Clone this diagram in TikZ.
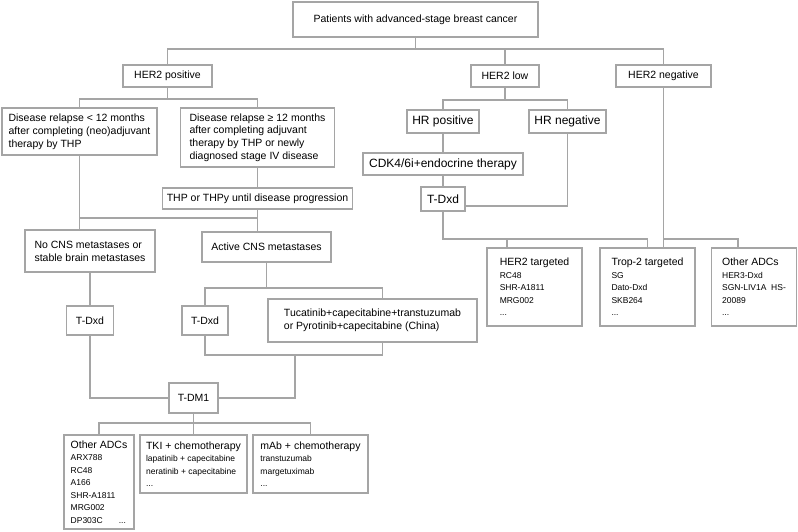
\documentclass[tikz,border=0pt]{standalone}
\usepackage{fontspec}
\setmainfont{Liberation Sans}
\usetikzlibrary{positioning}
\definecolor{linegray}{RGB}{165,165,165}
\tikzset{
  box/.style={draw=linegray, line width=1.8pt, inner sep=0pt, font=\fontsize{10.5}{12.8}\selectfont, align=center},
  bigbox/.style={box, font=\fontsize{12}{14}\selectfont},
  listbox/.style={box, align=left, font=\fontsize{8.5}{12.5}\selectfont},
  link/.style={draw=linegray, line width=1.8pt},
}
\newcommand{\listhead}[1]{{\fontsize{10.5}{12.5}\selectfont #1}}

\begin{document}
\begin{tikzpicture}[x=1pt,y=-1pt]
    \useasboundingbox (0,0) rectangle (798,532);
    \fill [white] (0,0) rectangle (798,532);

    \node [box, minimum width=245pt, minimum height=35pt] (top) at (415.5,19.5) {Patients with advanced-stage breast cancer};
    \node [box, minimum width=89pt, minimum height=22pt] (pos) at (167.5,76) {HER2 positive};
    \node [box, minimum width=68pt, minimum height=22pt] (low) at (505,76) {HER2 low};
    \node [box, minimum width=95pt, minimum height=22pt] (neg) at (663.5,76) {HER2 negative};

    \node [box, align=left, minimum width=155pt, minimum height=47pt] (early) at (79.5,131.5) {Disease relapse < 12 months\\after completing (neo)adjuvant\\therapy by THP};
    \node [box, align=left, minimum width=154pt, minimum height=59pt] (late) at (257.5,137.5) {Disease relapse ≥ 12 months\\after completing adjuvant\\therapy by THP or newly\\diagnosed stage IV disease\hspace{5pt}};
    \node [box, minimum width=190pt, minimum height=21pt] (thp) at (257.5,198.5) {THP or THPy until disease progression};
    \node [box, align=left, minimum width=130pt, minimum height=42pt] (nocns) at (90,251) {No CNS metastases or\\stable brain metastases};
    \node [box, minimum width=129pt, minimum height=30pt] (active) at (266.5,247) {Active CNS metastases};

    \node [box, minimum width=47pt, minimum height=29pt] (tdxdA) at (90,320.5) {T-Dxd};
    \node [box, minimum width=46pt, minimum height=29pt] (tdxdB) at (205,320.5) {T-Dxd};
    \node [box, align=left, minimum width=209pt, minimum height=43pt] (tuca) at (372.5,320.5) {Tucatinib+capecitabine+transtuzumab\\or Pyrotinib+capecitabine (China)};
    \node [box, minimum width=49pt, minimum height=30pt] (tdm1) at (193.5,398) {T-DM1};

    \node [listbox, minimum width=70pt, minimum height=94pt] (adcA) at (99,482) {\listhead{Other ADCs}\\ARX788\\RC48\\A166\\SHR-A1811\\MRG002\\DP303C\hspace{16pt}...};
    \node [listbox, minimum width=107pt, minimum height=58pt] (tki) at (193.5,464) {\listhead{TKI + chemotherapy}\\lapatinib + capecitabine\\neratinib + capecitabine\\...};
    \node [listbox, minimum width=115pt, minimum height=58pt] (mab) at (310.5,464) {\listhead{mAb + chemotherapy}\\transtuzumab\\margetuximab\\...\hspace{8pt}};

    \node [bigbox, minimum width=72pt, minimum height=23pt] (hrpos) at (443,121.5) {HR positive};
    \node [bigbox, minimum width=77pt, minimum height=23pt] (hrneg) at (567.5,121.5) {HR negative};
    \node [bigbox, minimum width=160pt, minimum height=22pt] (cdk) at (443,164) {CDK4/6i+endocrine therapy};
    \node [bigbox, minimum width=44pt, minimum height=24pt] (tdxdC) at (443,199) {T-Dxd};

    \node [listbox, minimum width=95pt, minimum height=78pt] (her2t) at (534.5,287) {\listhead{HER2 targeted}\hspace{2pt}\\RC48\\SHR-A1811\\MRG002\\...};
    \node [listbox, minimum width=95pt, minimum height=78pt] (trop) at (647.5,287) {\listhead{Trop-2 targeted}\hspace{2pt}\\SG\\Dato-Dxd\\SKB264\\...};
    \node [listbox, minimum width=85pt, minimum height=78pt] (adcB) at (754,287) {\listhead{Other ADCs}\\HER3-Dxd\\SGN-LIV1A\ \ HS-\\20089\\...};

    \coordinate (j1) at (0,49);
    \coordinate (j2) at (0,99);
    \coordinate (j3) at (0,218);
    \coordinate (j4) at (0,288);
    \coordinate (j5) at (295,355);
    \coordinate (j6) at (0,423);
    \coordinate (j7) at (0,100);
    \coordinate (j8) at (0,239);
    \coordinate (tucaTop) at ([xshift=10pt]tuca.north);
    \coordinate (tucaBot) at ([xshift=10pt]tuca.south);
    \coordinate (her2tIn) at ([xshift=-27.5pt]her2t.north);
    \coordinate (adcBIn) at ([xshift=-16pt]adcB.north);

    \draw [link] (top.south) -- (top.south |- j1);
    \draw [link] (pos.north) |- (j1 -| neg.north) -- (neg.north);
    \draw [link] (low.north) -- (low.north |- j1);

    \draw [link] (pos.south) -- (pos.south |- j2);
    \draw [link] (early.north) |- (j2 -| late.north) -- (late.north);
    \draw [link] (late.south) -- (thp.north);
    \draw [link] (early.south) -- (early.south |- nocns.north);
    \draw [link] (thp.south) -- (thp.south |- active.north);
    \draw [link] (early.south |- j3) -- (thp.south |- j3);

    \draw [link] (nocns.south) -- (tdxdA.north);
    \draw [link] (active.south) -- (active.south |- j4);
    \draw [link] (tdxdB.north) |- (tucaTop |- j4) -- (tucaTop);
    \draw [link] (tdxdB.south) |- (tucaBot |- j5) -- (tucaBot);
    \draw [link] (j5) |- (tdm1.east);
    \draw [link] (tdxdA.south) |- (tdm1.west);

    \draw [link] (tdm1.south) -- (tdm1.south |- j6);
    \draw [link] (adcA.north) |- (j6 -| mab.north) -- (mab.north);
    \draw [link] (tki.north) -- (tki.north |- j6);

    \draw [link] (low.south) -- (low.south |- j7);
    \draw [link] (hrpos.north) |- (j7 -| hrneg.north) -- (hrneg.north);
    \draw [link] (hrpos.south) -- (cdk.north);
    \draw [link] (cdk.south) -- (tdxdC.north);
    \draw [link] (hrneg.south) |- ([yshift=-7pt]tdxdC.east);

    \draw [link] (tdxdC.south) |- (trop.north |- j8) -- (trop.north);
    \draw [link] (her2tIn |- j8) -- (her2tIn);
    \draw [link] (neg.south) -- (neg.south |- trop.north);
    \draw [link] (neg.south |- j8) -| (adcBIn);

  \end{tikzpicture}
\end{document}
